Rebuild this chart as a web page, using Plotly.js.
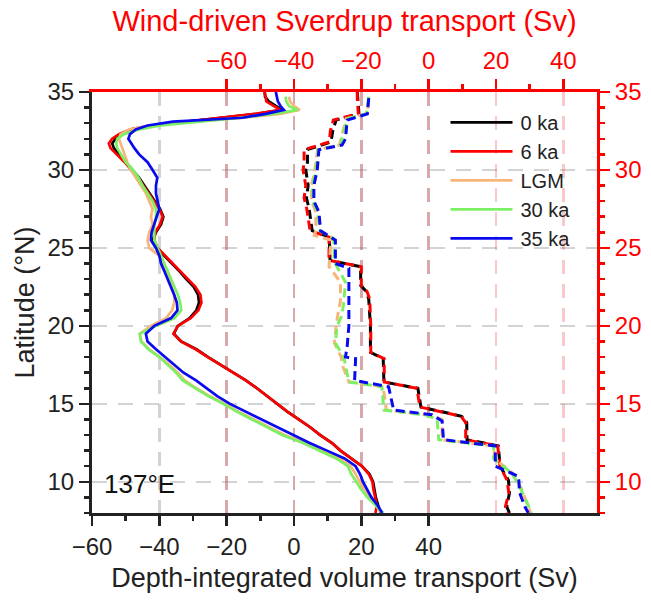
<!DOCTYPE html>
<html>
<head>
<meta charset="utf-8">
<script src="https://cdn.plot.ly/plotly-3.0.1.min.js"></script>
<style>html,body{margin:0;padding:0;background:#fff;}</style>
</head>
<body>
<div id="chart" style="width:651px;height:600px;"></div>
<script>
// ---------- Data ----------
// Depth-integrated volume transport (Sv), bottom axis, shared latitude grid
const solidLat = [35, 34.7, 34.4, 34.1, 33.85, 33.6, 33.35, 33.1, 32.85, 32.6, 32.3, 32.0, 31.7, 31.4, 31.0, 30.5, 30.0, 29.5, 29.0, 28.5, 28.0, 27.5, 27.0, 26.5, 26.0, 25.5, 25.0, 24.5, 24.0, 23.5, 23.0, 22.5, 22.0, 21.5, 21.0, 20.5, 20.0, 19.5, 19.0, 18.5, 18.0, 17.5, 17.0, 16.5, 16.0, 15.5, 15.0, 14.5, 14.0, 13.5, 13.0, 12.5, 12.0, 11.5, 11.0, 10.5, 10.0, 9.5, 9.0, 8.5, 8.0];
const dv0ka  = [-8.7, -8.6, -7.5, -5.5, -3.5, -11, -21, -31.5, -42, -48, -51.5, -53, -54, -53.5, -52, -50, -48, -46, -44.5, -43, -41.5, -39.8, -38.8, -39.5, -41, -42, -40.8, -38.5, -36.2, -34, -32, -29.8, -28.5, -28.2, -29, -31, -34.5, -35.7, -33.5, -29, -25.5, -21.8, -17.8, -14.3, -11, -8, -5.2, -2, 1.4, 4.8, 7.8, 11.2, 13.8, 17, 20.2, 22.4, 23.5, 23.9, 24.3, 25, 25.8];
const dv6ka  = [-8.7, -8.5, -8.2, -6, -4, -11.5, -21.5, -32, -42.5, -48.5, -52, -54, -55, -54.5, -52.5, -50.3, -48.3, -46.3, -44.8, -43.2, -41.8, -40, -39, -39.8, -41.2, -41.5, -40.5, -38.2, -36, -33.6, -31.5, -29.3, -27.8, -27.5, -28.4, -30.7, -34.5, -35.8, -33.6, -29.2, -25.6, -21.8, -17.8, -14.3, -11, -8, -5.2, -2, 1.4, 4.8, 7.8, 11.2, 13.8, 17, 20.2, 22.2, 23.3, 23.6, 24, 24.6, 24.2];
const dvLGM  = [null, -1.5, -1.2, 0, 1.7, -4, -15, -30, -43, -49, -51.5, -52, -51.5, -51, -50.5, -49.5, -48.5, -47, -45.5, -44, -43, -42, -42.5, -42, -43, -43.5, -43, -40, -39, -38, -37, -36.3, -35.6, -35.6, -36.2, -38, -42.5, -45.8, -45.3, -43, -39.8, -37, -34.5, -32.5, -29, -25, -20.5, -16.5, -12, -7.2, -2.8, 3.3, 8.5, 13.5, 16.8, 18.3, 19.5, 21, 22.5, 24.3, 26];
const dv30ka = [null, -2.5, -2.3, -1.5, 1, -6, -16, -28, -39.5, -46, -50.5, -52.5, -52.8, -52.5, -51.5, -50, -47.8, -46.2, -45, -43.5, -42, -41, -41, -41.5, -41.5, -41.5, -40.5, -39.5, -38.5, -37.5, -36.5, -35.5, -34.5, -33.8, -33.5, -35.5, -41, -45.8, -45.5, -43.3, -40, -37.5, -35, -33.1, -29.5, -25.5, -21, -17, -12.5, -8, -3.5, 2.5, 7.5, 12.5, 16, 17, 18.5, 20, 21.8, 24, 26.5];
const dv35ka = [-5.4, -5.2, -4.8, -4, -3, -8.4, -15.3, -36, -43.5, -47, -48.7, -49.2, -48.4, -47.4, -46, -43.5, -42, -40.6, -41, -41, -40.5, -40, -40.8, -41.5, -42.3, -42.5, -41, -40, -39.5, -38.5, -37.5, -36.5, -35.6, -34.8, -34.6, -36.5, -41.5, -44, -43.5, -41, -38.3, -35.8, -32.8, -29.1, -26, -22.8, -19, -14.3, -9.4, -4.8, -0.5, 4.5, 9.8, 15, 18.3, 19.6, 20.5, 21.8, 23, 24.8, 26.2];

// Wind-driven Sverdrup transport (Sv), top axis
const sv0Lat = [35.0, 34.6, 33.6, 33.2, 32.5, 31.8, 31.3, 30.5, 30.0, 29.0, 28.2, 27.5, 26.9, 26.1, 25.7, 24.2, 23.8, 22.6, 22.2, 21.7, 20.0, 18.3, 17.9, 16.4, 16.0, 14.8, 14.2, 13.8, 12.7, 12.3, 11.0, 10.1, 9.3, 8.4, 8.0];
const sv0ka  = [-21.2, -21.0, -20.7, -27.5, -28.5, -29.0, -36.0, -36.0, -36.5, -35.8, -36.3, -35.5, -35.2, -34.6, -29.5, -29.3, -20.2, -20.2, -18.5, -17.8, -17.3, -17.3, -13.5, -13.3, -3.2, -2.3, 9.8, 11.3, 11.4, 20.7, 21.2, 23.7, 24.0, 23.2, 24.0];
const sv6ka  = [-21.2, -21.2, -20.9, -28.3, -29.2, -29.5, -37.0, -37.0, -37.3, -36.5, -37.0, -36.2, -35.8, -35.2, -29.6, -29.6, -20.0, -20.0, -18.3, -17.5, -17.2, -17.2, -13.2, -13.2, -3.5, -2.6, 9.6, 11.0, 11.0, 20.5, 21.2, 23.3, 23.8, 22.8, 23.5];
const svLGMLat = [34.5, 33.6, 33.3, 32.5, 31.6, 31.3, 30.0, 29.0, 28.0, 27.3, 26.1, 25.8, 25.5, 24.1, 23.8, 22.8, 21.6, 20.7, 20.0, 18.9, 18.0, 17.4, 16.4, 16.1, 14.6, 14.3, 14.0, 12.7, 12.3, 11.5, 10.55, 9.6, 8.0];
const svLGM  = [-17.8, -18.3, -24.5, -25.5, -26.5, -33.0, -33.8, -34.8, -34.8, -33.5, -33.5, -34.0, -29.0, -29.5, -29.6, -26.2, -26.2, -27.0, -27.5, -28.0, -26.0, -25.5, -23.7, -13.5, -12.6, -0.5, 4.0, 4.0, 19.5, 19.5, 25.0, 27.5, 30.3];
const sv30Lat = [34.7, 33.6, 33.3, 32.5, 31.6, 31.3, 30.0, 29.0, 28.0, 27.3, 26.1, 25.6, 24.1, 23.8, 22.8, 21.6, 20.7, 20.0, 18.9, 18.0, 17.4, 16.4, 16.1, 14.6, 14.3, 14.0, 12.7, 12.3, 11.5, 10.55, 9.6, 8.0];
const sv30ka = [-17.8, -18.5, -24.0, -25.2, -26.2, -32.8, -33.5, -34.5, -34.5, -33.0, -32.3, -28.2, -28.0, -27.2, -24.7, -25.2, -25.7, -27.2, -27.7, -25.2, -24.7, -23.7, -13.9, -13.3, -1.0, 2.5, 3.0, 19.3, 19.3, 24.7, 27.2, 30.6];
const sv35Lat = [34.6, 33.6, 33.2, 32.0, 31.6, 31.3, 30.0, 29.0, 28.0, 27.3, 26.1, 25.5, 24.0, 23.7, 20.0, 18.7, 18.0, 17.9, 16.5, 16.1, 14.6, 14.3, 13.9, 12.7, 12.3, 11.0, 10.35, 9.3, 8.4, 8.0];
const sv35ka = [-17.8, -18.2, -24.2, -24.7, -25.7, -32.6, -33.1, -34.1, -34.1, -32.6, -32.1, -27.7, -27.7, -23.7, -23.7, -24.2, -24.7, -21.7, -22.0, -11.9, -10.4, 1.0, 4.0, 4.4, 19.8, 19.8, 26.7, 27.0, 28.6, 29.6];

const seriesNames = ['0 ka', '6 ka', 'LGM', '30 ka', '35 ka'];
const seriesColors = ['#000000', '#ff0000', '#f8b67a', '#7cf062', '#0a0af0'];
const bottomTicks = [-60, -40, -20, 0, 20, 40];
const bottomMinor = [-50, -30, -10, 10, 30];
const topTicks = [-60, -40, -20, 0, 20, 40];
const topMinor = [-50, -30, -10, 10, 30];
const latTicks = [10, 15, 20, 25, 30, 35];

// ---------- Traces ----------
const solidVals = [dv0ka, dv6ka, dvLGM, dv30ka, dv35ka];
const svLats = [sv0Lat, sv0Lat, svLGMLat, sv30Lat, sv35Lat];
const svVals = [sv0ka, sv6ka, svLGM, sv30ka, sv35ka];

const traces = [];
for (let i = 0; i < seriesNames.length; i++) {
  traces.push({
    type: 'scatter', mode: 'lines', name: seriesNames[i],
    x: svVals[i], y: svLats[i], xaxis: 'x2', yaxis: 'y2',
    line: {color: seriesColors[i], width: 3, dash: '9px,5px'},
    showlegend: false, hoverinfo: 'skip'
  });
}
for (let i = 0; i < seriesNames.length; i++) {
  traces.push({
    type: 'scatter', mode: 'lines', name: seriesNames[i],
    x: solidVals[i], y: solidLat, xaxis: 'x', yaxis: 'y',
    line: {color: seriesColors[i], width: 2.7},
    showlegend: true
  });
}

const FONT = '"Liberation Sans", Arial, Helvetica, sans-serif';
const RED = '#ff0000';
const DARK = '#222222';

const layout = {
  width: 651, height: 600,
  margin: {l: 92, r: 54, t: 92, b: 87, pad: 0},
  paper_bgcolor: '#ffffff', plot_bgcolor: '#ffffff',
  font: {family: FONT, color: DARK, size: 24},
  xaxis: {
    range: [-60, 90], tickmode: 'array', tickvals: bottomTicks,
    ticks: 'outside', ticklen: 10, tickwidth: 2.5, tickcolor: DARK,
    tickfont: {size: 24, color: DARK},
    showline: true, linecolor: DARK, linewidth: 3,
    showgrid: true, gridcolor: 'rgba(150,150,150,0.42)', gridwidth: 2.5, griddash: '14px,10px',
    zeroline: false,
    minor: {tickmode: 'array', tickvals: bottomMinor, ticks: 'outside', ticklen: 5, tickwidth: 2.5, tickcolor: DARK, showgrid: false},
    title: {text: 'Depth-integrated volume transport (Sv)', font: {size: 27, color: DARK}, standoff: 10}
  },
  xaxis2: {
    overlaying: 'x', side: 'top', anchor: 'y',
    range: [-100, 50], tickmode: 'array', tickvals: topTicks,
    ticks: 'outside', ticklen: 10, tickwidth: 2.5, tickcolor: RED,
    tickfont: {size: 24, color: RED},
    showline: true, linecolor: RED, linewidth: 3,
    showgrid: true, gridcolor: 'rgba(230,40,40,0.25)', gridwidth: 2.5, griddash: '14px,10px',
    zeroline: false,
    minor: {tickmode: 'array', tickvals: topMinor, ticks: 'outside', ticklen: 5, tickwidth: 2.5, tickcolor: RED, showgrid: false},
    title: {text: 'Wind-driven Sverdrup transport (Sv)', font: {size: 29, color: RED}, standoff: 8}
  },
  yaxis: {
    range: [8, 35], tickmode: 'array', tickvals: latTicks,
    ticks: 'outside', ticklen: 10, tickwidth: 2.5, tickcolor: DARK,
    tickfont: {size: 24, color: DARK},
    showline: true, linecolor: DARK, linewidth: 3,
    showgrid: true, gridcolor: 'rgba(150,150,150,0.42)', gridwidth: 2.5, griddash: '15px,11px',
    zeroline: false,
    minor: {dtick: 1, tick0: 0, ticks: 'outside', ticklen: 5, tickwidth: 2.5, tickcolor: DARK, showgrid: false},
    title: {text: 'Latitude (°N)', font: {size: 27, color: DARK}, standoff: 6}
  },
  yaxis2: {
    overlaying: 'y', side: 'right', anchor: 'x',
    range: [8, 35], tickmode: 'array', tickvals: latTicks,
    ticks: 'outside', ticklen: 10, tickwidth: 2.5, tickcolor: RED,
    tickfont: {size: 24, color: RED},
    showline: true, linecolor: RED, linewidth: 3,
    showgrid: false, zeroline: false,
    minor: {dtick: 1, tick0: 0, ticks: 'outside', ticklen: 5, tickwidth: 2.5, tickcolor: RED, showgrid: false}
  },
  showlegend: true,
  legend: {
    x: 0.70, y: 0.974, xanchor: 'left', yanchor: 'top',
    bgcolor: 'rgba(0,0,0,0)', borderwidth: 0,
    font: {size: 20, color: DARK, family: FONT},
    itemwidth: 65, tracegroupgap: 0
  },
  annotations: [{
    xref: 'paper', yref: 'paper', x: 0.02, y: 0.07, xanchor: 'left', yanchor: 'middle',
    text: '137°E', showarrow: false, font: {size: 26, color: '#111', family: FONT}
  }]
};

Plotly.newPlot('chart', traces, layout, {displayModeBar: false, staticPlot: true}).then(function (gd) {
  // lengthen legend line samples to match the reference
  gd.querySelectorAll('.legend .legendlines path').forEach(function (p) {
    p.setAttribute('d', 'M5,0h62');
  });
});
</script>
</body>
</html>
